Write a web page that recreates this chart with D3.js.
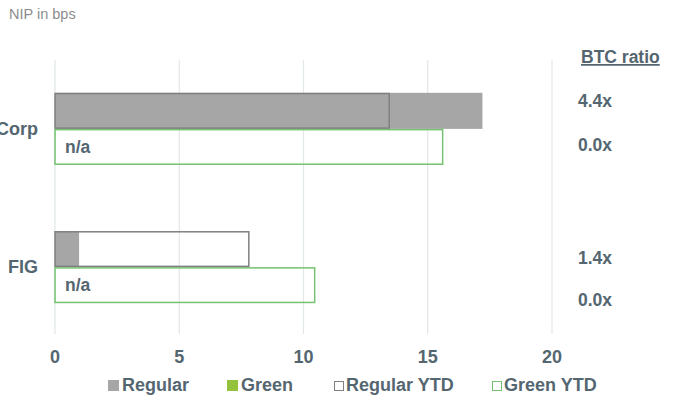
<!DOCTYPE html>
<html>
<head>
<meta charset="utf-8">
<script src="https://cdn.jsdelivr.net/npm/d3@7"></script>
<style>
  html, body { margin: 0; padding: 0; background: #fff; }
  svg { display: block; font-family: "Liberation Sans", Arial, sans-serif; }
</style>
</head>
<body>
<svg id="chart" width="677" height="400"></svg>
<script>
// data
const categories = ["Corp", "FIG"];
const regular = [17.2, 0.97];
const green = [null, null];          // n/a
const regularYtd = [13.45, 7.8];
const greenYtd = [15.6, 10.45];
const btcRatio = [["4.4x", "0.0x"], ["1.4x", "0.0x"]];
const xTicks = [0, 5, 10, 15, 20];

const textColor = "#546670";
const grayFill = "#a6a6a6";
const grayLine = "#808080";
const greenLine = "#74c26f";
const greenFill = "#95c23d";

const svg = d3.select("#chart");

const x = d3.scaleLinear().domain([0, 20]).range([55, 552]);
const y = d3.scaleBand().domain(categories).range([61, 335])
    .paddingInner(0.478).paddingOuter(0.23);
const ySub = d3.scaleBand().domain(["Regular", "Green"]).range([0, y.bandwidth()]);

// title
svg.append("text")
    .attr("x", 9).attr("y", 19)
    .attr("fill", "#8c8c8c")
    .attr("font-size", 14.5)
    .text("NIP in bps");

// gridlines
svg.append("g").selectAll("line")
    .data(xTicks)
    .join("line")
    .attr("x1", d => x(d)).attr("x2", d => x(d))
    .attr("y1", 60).attr("y2", 334)
    .attr("stroke", "#e2e7ea")
    .attr("stroke-width", 1.2);

// x tick labels
svg.append("g").selectAll("text")
    .data(xTicks)
    .join("text")
    .attr("x", d => x(d)).attr("y", 363)
    .attr("text-anchor", "middle")
    .attr("font-size", 18).attr("font-weight", "bold")
    .attr("fill", textColor)
    .text(d => d);

const rows = categories.map((c, i) => ({
    cat: c, regular: regular[i], green: green[i],
    regularYtd: regularYtd[i], greenYtd: greenYtd[i], btc: btcRatio[i]
}));

const g = svg.append("g").selectAll("g")
    .data(rows)
    .join("g")
    .attr("transform", d => `translate(0,${y(d.cat)})`);

// regular (filled)
g.append("rect")
    .attr("x", x(0))
    .attr("y", ySub("Regular"))
    .attr("width", d => x(d.regular) - x(0))
    .attr("height", ySub.bandwidth())
    .attr("fill", grayFill);

// regular YTD (outline)
g.append("rect")
    .attr("x", x(0))
    .attr("y", ySub("Regular") + 0.75)
    .attr("width", d => x(d.regularYtd) - x(0))
    .attr("height", ySub.bandwidth() - 1.5)
    .attr("fill", "none")
    .attr("stroke", grayLine)
    .attr("stroke-width", 1.5);

// green (filled, n/a here)
g.filter(d => d.green != null).append("rect")
    .attr("x", x(0))
    .attr("y", ySub("Green"))
    .attr("width", d => x(d.green) - x(0))
    .attr("height", ySub.bandwidth())
    .attr("fill", greenFill);

// green YTD (outline)
g.append("rect")
    .attr("x", x(0))
    .attr("y", ySub("Green") + 0.75)
    .attr("width", d => x(d.greenYtd) - x(0))
    .attr("height", ySub.bandwidth() - 1.5)
    .attr("fill", "none")
    .attr("stroke", greenLine)
    .attr("stroke-width", 1.5);

// n/a labels
g.filter(d => d.green == null).append("text")
    .attr("x", x(0) + 10)
    .attr("y", ySub("Green") + ySub.bandwidth() / 2 + 6)
    .attr("font-size", 17.5).attr("font-weight", "bold")
    .attr("fill", textColor)
    .text("n/a");

// category labels (Corp runs off the left edge, as in the original)
g.append("text")
    .attr("x", 38)
    .attr("y", y.bandwidth() / 2 + 6)
    .attr("text-anchor", "end")
    .attr("font-size", 18).attr("font-weight", "bold")
    .attr("fill", textColor)
    .text(d => d.cat);

// BTC ratio column
svg.append("text")
    .attr("x", 581).attr("y", 63)
    .attr("font-size", 17.5).attr("font-weight", "bold")
    .attr("fill", textColor)
    .attr("text-decoration", "underline")
    .text("BTC ratio");

const btcOffsets = [[-22, 22], [-3, 39]];
g.each(function (d, i) {
    d3.select(this).selectAll("text.btc")
        .data(d.btc)
        .join("text")
        .attr("class", "btc")
        .attr("x", 578)
        .attr("y", (v, j) => y.bandwidth() / 2 + btcOffsets[i][j])
        .attr("font-size", 17.5).attr("font-weight", "bold")
        .attr("fill", textColor)
        .text(v => v);
});

// legend
const legendItems = [
    { label: "Regular", x: 108, fill: grayFill, stroke: "none" },
    { label: "Green", x: 227, fill: greenFill, stroke: "none" },
    { label: "Regular YTD", x: 334, fill: "#fff", stroke: grayLine },
    { label: "Green YTD", x: 492, fill: "#fff", stroke: greenLine }
];
const lg = svg.append("g").selectAll("g")
    .data(legendItems)
    .join("g")
    .attr("transform", d => `translate(${d.x},380)`);
lg.append("rect")
    .attr("x", d => d.stroke === "none" ? 0 : 0.5)
    .attr("y", d => d.stroke === "none" ? 0 : 1.5)
    .attr("width", d => d.stroke === "none" ? 11 : 9)
    .attr("height", d => d.stroke === "none" ? 11 : 9)
    .attr("fill", d => d.fill)
    .attr("stroke", d => d.stroke);
lg.append("text")
    .attr("x", d => d.stroke === "none" ? 14 : 12)
    .attr("y", 11)
    .attr("font-size", 18).attr("font-weight", "bold")
    .attr("fill", textColor)
    .text(d => d.label);
</script>
</body>
</html>
